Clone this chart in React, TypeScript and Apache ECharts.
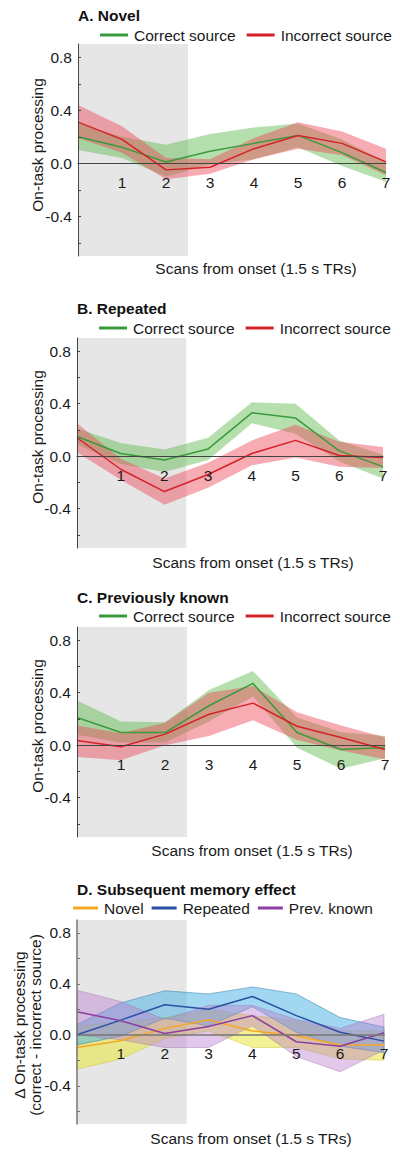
import { useEffect, useRef } from "react";
import * as echarts from "echarts";

// ---------- data ----------
const scans = [0, 1, 2, 3, 4, 5, 6, 7];
const xTickLabels = [1, 2, 3, 4, 5, 6, 7];
const yTickValues = [-0.6, -0.4, -0.2, 0, 0.2, 0.4, 0.6, 0.8];
const yLabelValues = [-0.4, 0, 0.4, 0.8];
const yRange = [-0.7, 0.9];
const cueWindow = [0, 2.5];

// A. Novel
const novelCorrect = [0.2, 0.12, 0.01, 0.09, 0.15, 0.21, 0.08, -0.07];
const novelCorrectUpper = [0.3, 0.2, 0.14, 0.22, 0.27, 0.3, 0.18, 0.01];
const novelCorrectLower = [0.1, 0.04, -0.1, -0.01, 0.03, 0.12, -0.02, -0.14];
const novelIncorrect = [0.31, 0.18, -0.05, -0.03, 0.11, 0.21, 0.15, 0.01];
const novelIncorrectUpper = [0.44, 0.28, 0.04, 0.03, 0.19, 0.31, 0.24, 0.11];
const novelIncorrectLower = [0.19, 0.08, -0.12, -0.08, 0.03, 0.11, 0.06, -0.09];

// B. Repeated
const repCorrect = [0.15, 0.02, -0.03, 0.055, 0.33, 0.29, 0.04, -0.08];
const repCorrectUpper = [0.21, 0.1, 0.05, 0.14, 0.41, 0.4, 0.12, 0.01];
const repCorrectLower = [0.09, -0.06, -0.12, -0.03, 0.25, 0.17, -0.04, -0.17];
const repIncorrect = [0.14, -0.1, -0.27, -0.14, 0.02, 0.12, 0.005, -0.01];
const repIncorrectUpper = [0.25, -0.02, -0.17, -0.05, 0.12, 0.24, 0.11, 0.07];
const repIncorrectLower = [0.03, -0.18, -0.37, -0.24, -0.07, -0.01, -0.08, -0.09];

// C. Previously known
const knownCorrect = [0.21, 0.096, 0.096, 0.3, 0.47, 0.096, -0.033, -0.018];
const knownCorrectUpper = [0.34, 0.18, 0.175, 0.42, 0.565, 0.21, 0.1, 0.07];
const knownCorrectLower = [0.08, 0.02, 0.02, 0.18, 0.37, -0.02, -0.18, -0.1];
const knownIncorrect = [0.035, -0.013, 0.084, 0.235, 0.32, 0.144, 0.058, -0.033];
const knownIncorrectUpper = [0.15, 0.09, 0.17, 0.4, 0.45, 0.25, 0.15, 0.06];
const knownIncorrectLower = [-0.09, -0.115, 0.0, 0.07, 0.19, 0.04, -0.04, -0.11];

// D. Subsequent memory effect
const smeNovel = [-0.1, -0.047, 0.05, 0.115, 0.03, -0.008, -0.08, -0.08];
const smeNovelUpper = [0.07, 0.1, 0.135, 0.2, 0.15, 0.11, 0.03, 0.03];
const smeNovelLower = [-0.27, -0.19, -0.03, 0.03, -0.1, -0.1, -0.19, -0.2];
const smeRepeated = [0.0, 0.115, 0.235, 0.2, 0.3, 0.15, 0.02, -0.05];
const smeRepeatedUpper = [0.08, 0.25, 0.345, 0.32, 0.375, 0.32, 0.135, 0.06];
const smeRepeatedLower = [-0.08, -0.01, 0.13, 0.07, 0.22, 0.02, -0.09, -0.14];
const smeKnown = [0.18, 0.11, 0.01, 0.065, 0.15, -0.055, -0.09, 0.015];
const smeKnownUpper = [0.35, 0.26, 0.12, 0.23, 0.23, 0.12, 0.05, 0.16];
const smeKnownLower = [0.0, -0.04, -0.1, -0.1, 0.07, -0.17, -0.29, -0.12];

const panelTitles = [
  "A. Novel",
  "B. Repeated",
  "C. Previously known",
  "D. Subsequent memory effect",
];
const yAxisTitles = [
  "On-task processing",
  "On-task processing",
  "On-task processing",
  "Δ On-task processing\n(correct - incorrect source)",
];
const xAxisTitle = "Scans from onset (1.5 s TRs)";

// ---------- styling ----------
const FONT = '"Liberation Sans", Arial, Helvetica, sans-serif';
const FS = 15.5;

const GREEN = "#3b9a3b";
const GREEN_FILL = "rgba(90,185,70,0.45)";
const RED = "#d42229";
const RED_FILL = "rgba(238,72,88,0.45)";
const ORANGE = "#f6a724";
const YELLOW_FILL = "rgba(232,232,60,0.55)";
const BLUE = "#2b4fa3";
const BLUE_FILL = "rgba(70,175,230,0.5)";
const BLUE_EDGE = "rgba(40,120,170,0.7)";
const PURPLE = "#8c3fa0";
const PURPLE_FILL = "rgba(185,125,205,0.42)";

type SeriesDef = {
  name: string;
  mean: number[];
  upper: number[];
  lower: number[];
  line: string;
  fill: string;
  edge?: string;
};

type Layout = {
  left: number;
  width: number;
  top: number;
  height: number;
  titleY: number;
  legendLeft: number;
  legendTop: number;
  legendIconW: number;
  legendGap: number;
  xNameX: number;
  xNameY: number;
  yNameX: number;
  yNameY: number;
  axisColor: string;
  axisWidth: number;
};

const layouts: Layout[] = [
  { left: 78, width: 308, top: 44, height: 212, titleY: 16, legendLeft: 100, legendTop: 27, legendIconW: 28, legendGap: 11, xNameX: 256, xNameY: 268, yNameX: 37, yNameY: 145, axisColor: "#444", axisWidth: 1 },
  { left: 77, width: 306, top: 338, height: 210, titleY: 309, legendLeft: 99, legendTop: 320, legendIconW: 28, legendGap: 11, xNameX: 253, xNameY: 562, yNameX: 37, yNameY: 437, axisColor: "#444", axisWidth: 1 },
  { left: 77, width: 308, top: 627, height: 210, titleY: 598, legendLeft: 99, legendTop: 608, legendIconW: 28, legendGap: 11, xNameX: 252, xNameY: 850, yNameX: 37, yNameY: 726, axisColor: "#444", axisWidth: 1 },
  { left: 77, width: 307, top: 920, height: 204, titleY: 890, legendLeft: 73, legendTop: 900, legendIconW: 25, legendGap: 8, xNameX: 251, xNameY: 1138, yNameX: 27, yNameY: 1025, axisColor: "#777", axisWidth: 1.5 },
];

const panelSeries: SeriesDef[][] = [
  [
    { name: "Correct source", mean: novelCorrect, upper: novelCorrectUpper, lower: novelCorrectLower, line: GREEN, fill: GREEN_FILL },
    { name: "Incorrect source", mean: novelIncorrect, upper: novelIncorrectUpper, lower: novelIncorrectLower, line: RED, fill: RED_FILL },
  ],
  [
    { name: "Correct source", mean: repCorrect, upper: repCorrectUpper, lower: repCorrectLower, line: GREEN, fill: GREEN_FILL },
    { name: "Incorrect source", mean: repIncorrect, upper: repIncorrectUpper, lower: repIncorrectLower, line: RED, fill: RED_FILL },
  ],
  [
    { name: "Correct source", mean: knownCorrect, upper: knownCorrectUpper, lower: knownCorrectLower, line: GREEN, fill: GREEN_FILL },
    { name: "Incorrect source", mean: knownIncorrect, upper: knownIncorrectUpper, lower: knownIncorrectLower, line: RED, fill: RED_FILL },
  ],
  [
    { name: "Novel", mean: smeNovel, upper: smeNovelUpper, lower: smeNovelLower, line: ORANGE, fill: YELLOW_FILL, edge: "rgba(200,190,40,0.6)" },
    { name: "Repeated", mean: smeRepeated, upper: smeRepeatedUpper, lower: smeRepeatedLower, line: BLUE, fill: BLUE_FILL, edge: BLUE_EDGE },
    { name: "Prev. known", mean: smeKnown, upper: smeKnownUpper, lower: smeKnownLower, line: PURPLE, fill: PURPLE_FILL, edge: "rgba(160,110,180,0.6)" },
  ],
];

function bandSeries(idx: number, s: SeriesDef) {
  return {
    type: "custom",
    name: s.name + " band",
    xAxisIndex: idx,
    yAxisIndex: idx,
    z: 2,
    silent: true,
    data: scans.map((x, i) => [x, s.lower[i], s.upper[i]]),
    encode: { x: 0, y: [1, 2] },
    renderItem: (params: any, api: any) => {
      if (params.dataIndex !== 0) return null;
      const top = scans.map((x, i) => api.coord([x, s.upper[i]]));
      const bot = scans.map((x, i) => api.coord([x, s.lower[i]])).reverse();
      return {
        type: "polygon",
        shape: { points: top.concat(bot) },
        style: {
          fill: s.fill,
          stroke: s.edge || null,
          lineWidth: s.edge ? 0.7 : 0,
        },
      };
    },
  };
}

function buildOption() {
  const grid: any[] = [];
  const xAxis: any[] = [];
  const yAxis: any[] = [];
  const legend: any[] = [];
  const series: any[] = [];
  const graphic: any[] = [];

  layouts.forEach((L, idx) => {
    grid.push({ left: L.left, top: L.top, width: L.width, height: L.height, containLabel: false });
    // place the x axis (line + labels) at y = 0 inside the grid
    const zeroOffset = -L.height * (0 - yRange[0]) / (yRange[1] - yRange[0]);
    xAxis.push({
      type: "value",
      gridIndex: idx,
      min: 0,
      max: 7,
      interval: 1,
      z: 10,
      position: "bottom",
      offset: zeroOffset,
      axisLine: { show: true, onZero: false, lineStyle: { color: L.axisColor, width: L.axisWidth } },
      axisTick: { show: false },
      splitLine: { show: false },
      axisLabel: {
        customValues: xTickLabels,
        margin: 11,
        fontSize: FS,
        fontFamily: FONT,
        color: "#1a1a1a",
      },
    });
    yAxis.push({
      type: "value",
      gridIndex: idx,
      min: yRange[0],
      max: yRange[1],
      z: 10,
      axisLine: { show: true, onZero: false, lineStyle: { color: L.axisColor, width: L.axisWidth } },
      axisTick: { show: true, inside: true, length: 3, customValues: yTickValues, lineStyle: { color: L.axisColor } },
      splitLine: { show: false },
      axisLabel: {
        customValues: yLabelValues,
        formatter: (v: number) => v.toFixed(1),
        margin: 6,
        fontSize: FS,
        fontFamily: FONT,
        color: "#1a1a1a",
      },
    });

    // cue window shading
    series.push({
      type: "line",
      name: "cue window " + idx,
      xAxisIndex: idx,
      yAxisIndex: idx,
      data: [],
      z: 1,
      silent: true,
      markArea: {
        silent: true,
        itemStyle: { color: "#e6e6e6" },
        data: [[{ xAxis: cueWindow[0] }, { xAxis: cueWindow[1] }]],
      },
    });

    const defs = panelSeries[idx];
    defs.forEach((s) => series.push(bandSeries(idx, s)));
    defs.forEach((s) => {
      series.push({
        type: "line",
        name: s.name,
        xAxisIndex: idx,
        yAxisIndex: idx,
        z: 3,
        showSymbol: false,
        symbol: "none",
        data: scans.map((x, i) => [x, s.mean[i]]),
        lineStyle: { color: s.line, width: 1.5 },
        itemStyle: { color: s.line },
      });
    });

    legend.push({
      left: L.legendLeft,
      top: L.legendTop,
      orient: "horizontal",
      icon: "rect",
      itemWidth: L.legendIconW,
      itemHeight: 3,
      itemGap: L.legendGap,
      padding: 0,
      selectedMode: false,
      data: defs.map((s) => s.name),
      textStyle: { fontSize: FS, fontFamily: FONT, color: "#1a1a1a", padding: [0, 0, 0, 1] },
    });

    graphic.push({
      type: "text",
      left: L.left,
      top: L.titleY - 9,
      style: { text: panelTitles[idx], font: `bold ${FS}px ${FONT}`, fill: "#111" },
    });
    graphic.push({
      type: "text",
      x: L.xNameX,
      y: L.xNameY,
      style: { text: xAxisTitle, font: `${FS}px ${FONT}`, fill: "#1a1a1a", textAlign: "center", textVerticalAlign: "middle" },
    });
    graphic.push({
      type: "text",
      x: L.yNameX,
      y: L.yNameY,
      rotation: Math.PI / 2,
      style: {
        text: yAxisTitles[idx],
        font: `${FS}px ${FONT}`,
        fill: "#1a1a1a",
        textAlign: "center",
        textVerticalAlign: "middle",
        lineHeight: 16,
      },
    });
  });

  return {
    animation: false,
    backgroundColor: "#ffffff",
    textStyle: { fontFamily: FONT },
    grid,
    xAxis,
    yAxis,
    legend,
    series,
    graphic,
  };
}

export default function App() {
  const ref = useRef<HTMLDivElement>(null);
  useEffect(() => {
    document.body.style.margin = "0";
    if (!ref.current) return;
    const chart = echarts.init(ref.current, null, { renderer: "svg" });
    chart.setOption(buildOption() as any);
    return () => chart.dispose();
  }, []);
  return <div ref={ref} style={{ width: 400, height: 1156, position: "absolute", left: 0, top: 0 }} />;
}
